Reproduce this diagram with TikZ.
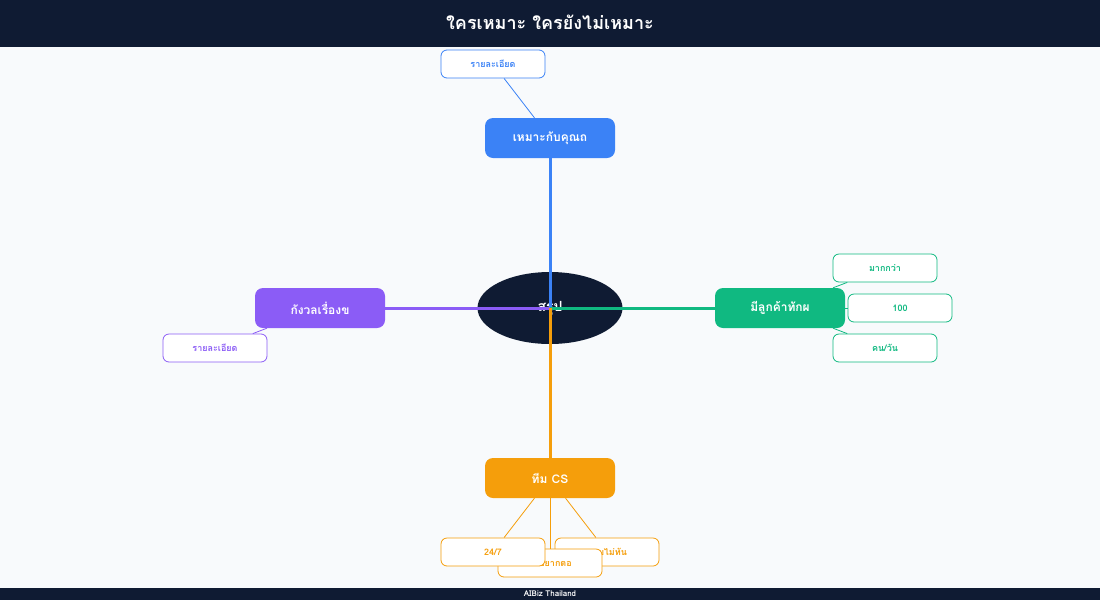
\documentclass[tikz,border=0pt]{standalone}
\usepackage{fontspec}
\setmainfont[Script=Thai]{Loma}
\usetikzlibrary{shapes.geometric}
\definecolor{navy}{HTML}{0F1B33}
\definecolor{paper}{HTML}{F8FAFC}
\definecolor{fitblue}{HTML}{3B82F6}
\definecolor{worrypurple}{HTML}{8B5CF6}
\definecolor{chatgreen}{HTML}{10B981}
\definecolor{teamorange}{HTML}{F59E0B}

\begin{document}
\begin{tikzpicture}[x=1pt,y=-1pt,
	every node/.style={font=\bfseries, inner sep=0pt},
	branch/.style={rounded corners=8pt, minimum width=130pt, minimum height=40pt, text=white, font=\fontsize{12}{14}\selectfont\bfseries},
	detail/.style={draw, fill=white, rounded corners=6pt, minimum width=104pt, minimum height=28pt, line width=0.8pt, font=\fontsize{9}{10}\selectfont\bfseries},
	spoke/.style={line width=3pt},
	twig/.style={line width=0.8pt}]
	\useasboundingbox (0,0) rectangle (1100,600);
	\fill[paper] (0,0) rectangle (1100,600);
	\fill[navy] (0,0) rectangle (1100,47);
	\fill[navy] (0,588) rectangle (1100,600);
	\node[text=white, font=\fontsize{18}{20}\selectfont\bfseries] (title) at (550,22) {ใครเหมาะ ใครยังไม่เหมาะ};
	\node[text=white, font=\fontsize{8}{9}\selectfont\bfseries] (footer) at (550,594) {AIBiz Thailand};
	
	\node[ellipse, fill=navy, minimum width=145pt, minimum height=72pt, text=white, font=\fontsize{14}{16}\selectfont\bfseries] (hub) at (550,308) {สรุป};
	\coordinate (fitpos) at (550,138);
	\coordinate (worrypos) at (320,308);
	\coordinate (chatpos) at (780,308);
	\coordinate (teampos) at (550,478);
	\draw[spoke, fitblue] (hub.center) -- (fitpos);
	\draw[spoke, worrypurple] (hub.center) -- (worrypos);
	\draw[spoke, chatgreen] (hub.center) -- (chatpos);
	\draw[spoke, teamorange] (hub.center) -- (teampos);
	
	\node[branch, fill=fitblue] (fit) at (fitpos) {เหมาะกับคุณถ};
	\node[branch, fill=worrypurple] (worry) at (worrypos) {กังวลเรื่องข};
	\node[branch, fill=chatgreen] (chat) at (chatpos) {มีลูกค้าทักผ};
	\node[branch, fill=teamorange] (team) at (teampos) {ทีม CS};
	
	% details
	\node[detail, draw=fitblue, text=fitblue] (fitinfo) at (493,64) {รายละเอียด};
	\draw[twig, fitblue] (fit) -- (fitinfo);
	\node[detail, draw=worrypurple, text=worrypurple] (worryinfo) at (215,348) {รายละเอียด};
	\draw[twig, worrypurple] (worry) -- (worryinfo);
	\node[detail, draw=chatgreen, text=chatgreen] (chatmore) at (885,268) {มากกว่า};
	\node[detail, draw=chatgreen, text=chatgreen] (chatnum) at (900,308) {100};
	\node[detail, draw=chatgreen, text=chatgreen] (chatday) at (885,348) {คน/วัน};
	\draw[twig, chatgreen] (chat) -- (chatmore);
	\draw[twig, chatgreen] (chat) -- (chatnum);
	\draw[twig, chatgreen] (chat) -- (chatday);
	\node[detail, draw=teamorange, text=teamorange] (teamlate) at (607,552) {ตอบไม่ทัน};
	\node[detail, draw=teamorange, text=teamorange] (teamwant) at (550,563) {ไม่อยากตอ};
	\node[detail, draw=teamorange, text=teamorange] (teamhours) at (493,552) {24/7};
	\draw[twig, teamorange] (team) -- (teamhours);
	\draw[twig, teamorange] (team) -- (teamwant);
	\draw[twig, teamorange] (team) -- (teamlate);
\end{tikzpicture}
\end{document}
